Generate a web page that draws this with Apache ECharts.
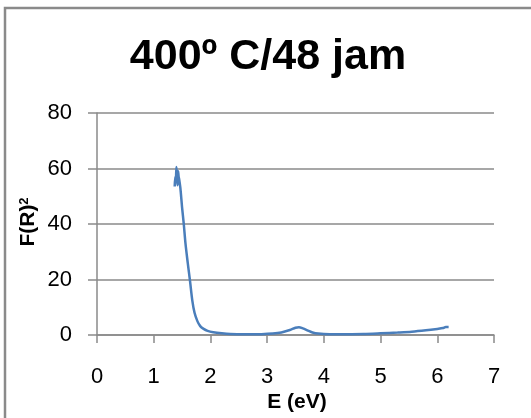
<!DOCTYPE html>
<html>
<head>
<meta charset="utf-8">
<script src="https://cdn.jsdelivr.net/npm/echarts@6/dist/echarts.min.js"></script>
<style>
  html, body { margin: 0; padding: 0; background: #fff; }
  #chart { width: 531px; height: 418px; }
</style>
</head>
<body>
<div id="chart"></div>
<script>
// Photon energy (eV) and the Kubelka-Munk term F(R)^2
const energy = [1.37, 1.38, 1.39, 1.40, 1.41, 1.42, 1.43, 1.44, 1.45, 1.47, 1.50, 1.53, 1.56, 1.60, 1.64,
  1.68, 1.72, 1.77, 1.82, 1.88, 1.95, 2.05, 2.20, 2.35, 2.60, 2.90, 3.10, 3.25, 3.40, 3.50, 3.56, 3.63,
  3.72, 3.80, 3.90, 4.10, 4.40, 4.70, 5.00, 5.30, 5.55, 5.80, 6.00, 6.10, 6.15, 6.20];
const fr2 = [53.5, 57, 55, 60.5, 58, 54, 59, 57, 56, 53, 46, 40, 33, 26, 19.5,
  12.5, 8, 5, 3.2, 2.2, 1.5, 1.0, 0.6, 0.35, 0.25, 0.3, 0.5, 0.9, 1.8, 2.6, 2.8, 2.4,
  1.6, 0.9, 0.5, 0.3, 0.3, 0.35, 0.6, 0.9, 1.2, 1.7, 2.2, 2.5, 2.9, 2.9];
const xTicks = [0, 7, 1];   // min, max, step
const yTicks = [0, 80, 20];
const titleText = '400º C/48 jam';
const xName = 'E (eV)';
const yName = 'F(R)';

const gray = '#8a8a8a';
const sans = '"Liberation Sans", Arial, sans-serif';
const chart = echarts.init(document.getElementById('chart'), null, { renderer: 'canvas' });

chart.setOption({
  animation: false,
  backgroundColor: '#fff',
  grid: { left: 97, right: 37, top: 113, bottom: 83, containLabel: false },
  xAxis: {
    type: 'value', min: xTicks[0], max: xTicks[1], interval: xTicks[2],
    axisLine: { show: true, lineStyle: { color: gray, width: 1.5 } },
    axisTick: { show: true, length: 8, lineStyle: { color: gray, width: 1.5 } },
    splitLine: { show: false },
    axisLabel: { margin: 31, color: '#000', fontSize: 22, fontFamily: sans }
  },
  yAxis: {
    type: 'value', min: yTicks[0], max: yTicks[1], interval: yTicks[2],
    axisLine: { show: true, lineStyle: { color: gray, width: 1.5 } },
    axisTick: { show: true, length: 9, lineStyle: { color: gray, width: 1.5 } },
    splitLine: { show: true, lineStyle: { color: gray, width: 1.5 } },
    axisLabel: { margin: 25, color: '#000', fontSize: 22, fontFamily: sans }
  },
  series: [{
    type: 'line',
    data: energy.map((e, i) => [e, fr2[i]]),
    showSymbol: false,
    smooth: 0.3,
    lineStyle: { color: '#4a7ebb', width: 2.5 },
    z: 5
  }],
  graphic: [
    { type: 'rect', shape: { x: 5, y: 8, width: 560, height: 440 },
      style: { fill: 'none', stroke: gray, lineWidth: 2.5 }, silent: true },
    { type: 'text', x: 268, y: 57,
      style: { text: titleText, textAlign: 'center', textVerticalAlign: 'middle',
        font: 'bold 43px ' + sans, fill: '#000' } },
    { type: 'text', x: 297, y: 402,
      style: { text: xName, textAlign: 'center', textVerticalAlign: 'middle',
        font: 'bold 21px ' + sans, fill: '#000' } },
    { type: 'text', x: 28, y: 222, rotation: Math.PI / 2,
      style: { text: '{a|' + yName + '}{s|2}', textAlign: 'center', textVerticalAlign: 'middle',
        rich: {
          a: { font: 'bold 21px ' + sans, fill: '#000' },
          s: { font: 'bold 13px ' + sans, fill: '#000', verticalAlign: 'top', padding: [0, 0, 8, 0] }
        } } }
  ]
});
</script>
</body>
</html>
